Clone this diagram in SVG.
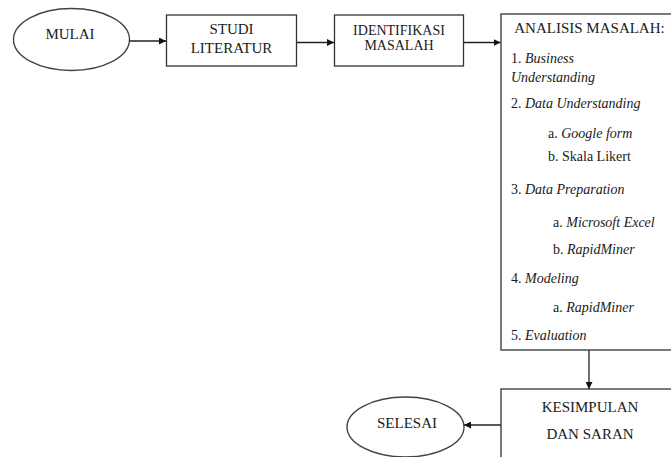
<svg xmlns="http://www.w3.org/2000/svg" width="671" height="457" viewBox="0 0 671 457" font-family="'Liberation Serif', 'DejaVu Serif', serif">
<defs>
<marker id="ah" viewBox="0 0 10 10" refX="10" refY="5" markerWidth="7" markerHeight="7" markerUnits="userSpaceOnUse" orient="auto">
<path d="M0,0 L10,5 L0,10 z" fill="#111"/>
</marker>
<style>
.n{fill:#fff;stroke:#333;stroke-width:1.3}
.e{fill:#fff;stroke:#444;stroke-width:1.4}
text{font-family:'Liberation Serif','DejaVu Serif',serif;font-size:15px;fill:#1a1a1a}
.c{text-anchor:middle}
.i{font-style:italic}
.s{font-size:14px}
.t{font-size:14px}
.k{stroke:#222;stroke-width:1.3;fill:none;marker-end:url(#ah)}
</style>
</defs>
<rect width="671" height="457" fill="#fff"/>
<g id="connectors">
<line class="k" x1="130" y1="41" x2="166" y2="41"/>
<line class="k" x1="297" y1="42.5" x2="334" y2="42.5"/>
<line class="k" x1="463" y1="42.5" x2="500.5" y2="42.5"/>
<line class="k" x1="589" y1="350" x2="589" y2="389"/>
<line class="k" x1="501" y1="425" x2="464" y2="425"/>
</g>
<g id="mulai">
<ellipse class="e" cx="71.5" cy="39.5" rx="58" ry="31"/>
<text class="c" x="70" y="39">MULAI</text>
</g>
<g id="studi">
<rect class="n" x="166.5" y="15" width="130" height="51"/>
<text class="c" x="231.5" y="34">STUDI</text>
<text class="c" x="231.5" y="53">LITERATUR</text>
</g>
<g id="identifikasi">
<rect class="n" x="334.5" y="15" width="129" height="51"/>
<text class="c t" x="399" y="35">IDENTIFIKASI</text>
<text class="c t" x="399" y="50">MASALAH</text>
</g>
<g id="analisis">
<rect class="n" x="501" y="14" width="178" height="336"/>
<text class="c" x="589.5" y="33">ANALISIS MASALAH:</text>
<text class="s" x="511" y="63">1. <tspan class="i">Business</tspan></text>
<text class="s i" x="511" y="82">Understanding</text>
<text class="s" x="511" y="108">2. <tspan class="i">Data Understanding</tspan></text>
<text class="s" x="548" y="138">a. <tspan class="i">Google form</tspan></text>
<text class="s" x="548" y="161">b. Skala Likert</text>
<text class="s" x="511" y="194">3. <tspan class="i">Data Preparation</tspan></text>
<text class="s" x="553" y="227">a. <tspan class="i">Microsoft Excel</tspan></text>
<text class="s" x="553" y="254">b. <tspan class="i">RapidMiner</tspan></text>
<text class="s" x="511" y="283">4. <tspan class="i">Modeling</tspan></text>
<text class="s" x="553" y="312">a. <tspan class="i">RapidMiner</tspan></text>
<text class="s" x="511" y="340">5. <tspan class="i">Evaluation</tspan></text>
</g>
<g id="kesimpulan">
<rect class="n" x="501" y="389" width="178" height="80"/>
<text class="c" x="590" y="412">KESIMPULAN</text>
<text class="c" x="590" y="439">DAN SARAN</text>
</g>
<g id="selesai">
<ellipse class="e" cx="405.5" cy="427" rx="58.5" ry="30"/>
<text class="c" x="407" y="428">SELESAI</text>
</g>
</svg>
